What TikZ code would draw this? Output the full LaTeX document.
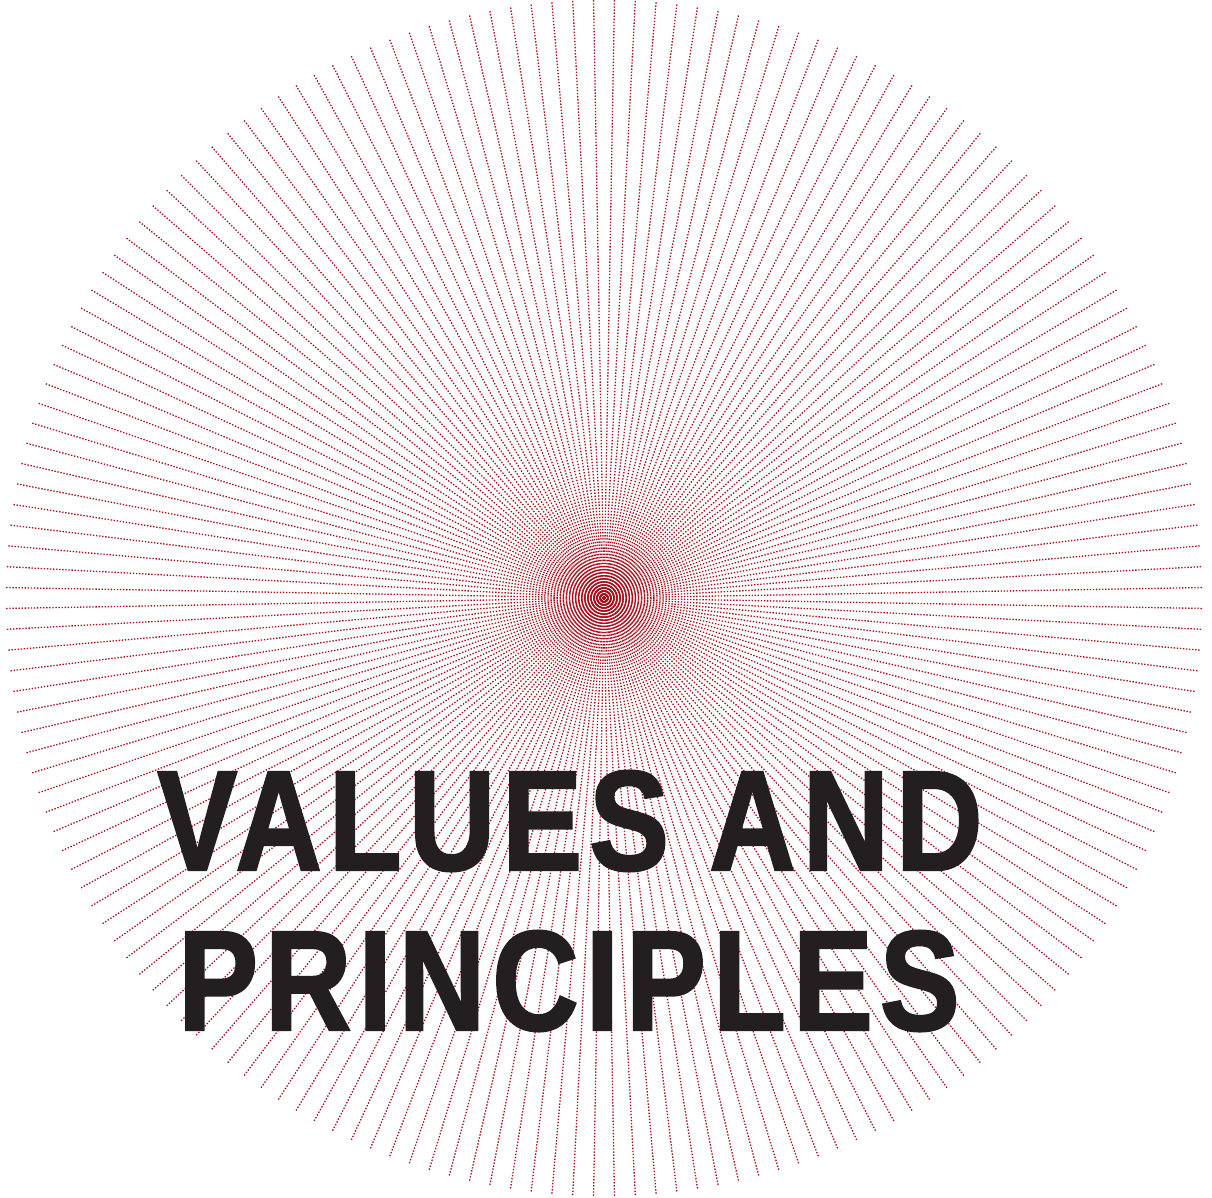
\documentclass[tikz,border=0pt]{standalone}
\usepackage{fontspec}
\newfontfamily\titlefont[FakeStretch=0.84,FakeBold=1.6,LetterSpace=5]{Liberation Sans}
\definecolor{rayred}{HTML}{A8101C}
\definecolor{inkdark}{HTML}{231F20}
\tikzset{
  ray/.style={rayred, line width=0.75pt, dash pattern=on 0.8pt off 0.95pt},
  titletext/.style={inkdark, anchor=base, inner sep=0pt, font=\titlefont\bfseries\fontsize{81}{81}\selectfont}
}

\begin{document}
\begin{tikzpicture}[x=0.02cm,y=0.02cm]

% Frame
\useasboundingbox (0,0) rectangle (1212,1197);

% Drawing the rays
\coordinate (hub) at (604,599);
\foreach \a in {1,3,...,359}
  \draw[ray] (hub) -- ++(\a:598);

% Title
\node[titletext] (title1) at (570,327) {VALUES AND};
\node[titletext] (title2) at (569,167) {PRINCIPLES};

\end{tikzpicture}
\end{document}
